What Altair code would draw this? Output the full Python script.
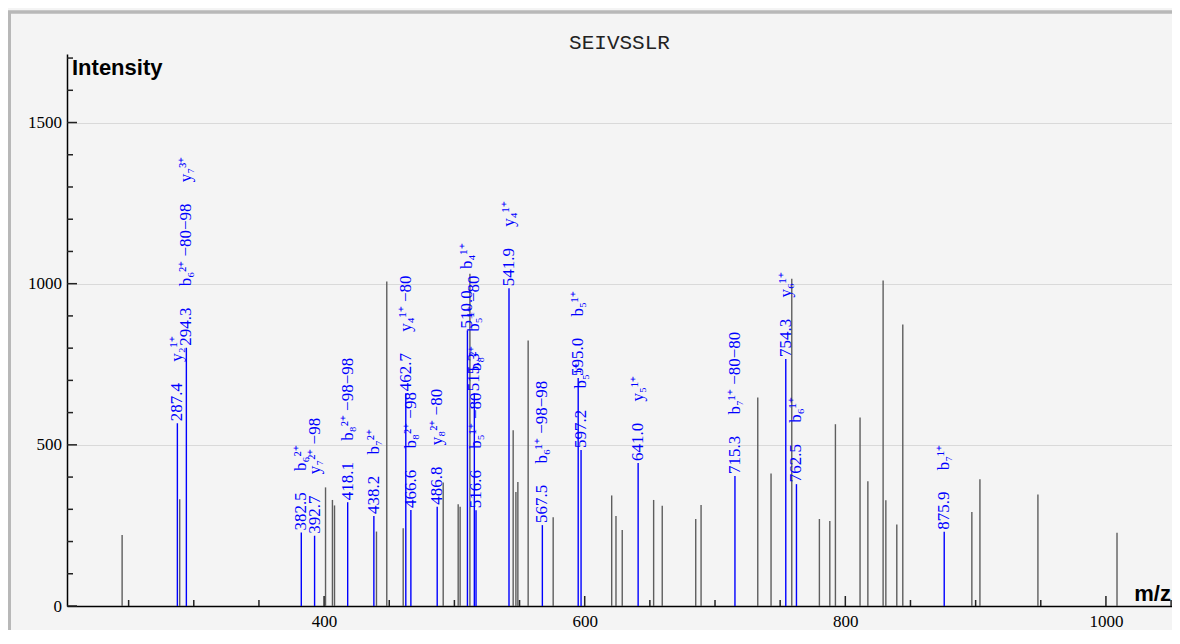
import altair as alt
import pandas as pd

# ---- data ----
mz_matched = [287.4, 294.3, 382.5, 392.7, 418.1, 438.2, 462.7, 466.6, 486.8, 510.0,
              515.3, 516.6, 541.9, 567.5, 595.0, 597.2, 641.0, 715.3, 754.3, 762.5, 875.9]
int_matched = [567, 801, 228, 218, 322, 279, 660, 298, 308, 855,
               660, 297, 986, 251, 707, 484, 444, 403, 766, 378, 230]
NB = "\u00a0" * 5
ion_matched = ["y₂¹⁺", "b₆²⁺ −80−98" + NB + "y₇³⁺", "b₆²⁺", "y₇²⁺ −98", "b₈²⁺ −98−98", "b₇²⁺",
               "y₄¹⁺ −80", "b₈²⁺ −98", "y₈²⁺ −80", "b₄¹⁺", "b₅¹⁺ −80", "b₅¹⁺ −80" + NB + "b₈²⁺",
               "y₄¹⁺", "b₆¹⁺ −98−98", "b₅¹⁺", "b₅¹⁺", "y₅¹⁺", "b₇¹⁺ −80−80", "y₆¹⁺", "b₆¹⁺", "b₇¹⁺"]

mz_other = [245.0, 289.2, 401.1, 406.4, 408.0, 440.2, 448.1, 460.7, 491.4, 502.9,
            504.4, 511.9, 545.1, 547.2, 548.7, 556.6, 575.8, 620.7, 624.0, 628.8,
            652.9, 659.5, 685.2, 689.3, 732.8, 743.0, 758.9, 780.1, 788.1, 792.4,
            811.3, 817.3, 829.0, 831.1, 839.5, 844.1, 897.1, 903.3, 947.8, 1008.5]
int_other = [220, 331, 368, 329, 312, 231, 1007, 241, 383, 316,
             308, 1031, 545, 354, 385, 824, 275, 343, 279, 236,
             329, 311, 270, 313, 647, 411, 1015, 270, 264, 564,
             585, 387, 1010, 328, 253, 873, 292, 393, 346, 227]

x_major = [400, 600, 800, 1000]
x_minor = [250, 300, 350, 450, 500, 550, 650, 700, 750, 850, 900, 950, 1050]
y_major = [0, 500, 1000, 1500]
y_minor = [100, 200, 300, 400, 600, 700, 800, 900, 1100, 1200, 1300, 1400, 1600, 1700]
x_domain = [202.7, 1050.7]
y_domain = [0, 1712.6]
title_text = "SEIVSSLR"

W, H = 1105, 552
SERIF = "Liberation Serif"
SANS = "Liberation Sans"

df_other = pd.DataFrame({"mz": mz_other, "intensity": int_other})
df_match = pd.DataFrame({
    "mz": mz_matched,
    "intensity": int_matched,
    "label": [f"{m:.1f}{NB}{ion}" for m, ion in zip(mz_matched, ion_matched)],
})

xscale = alt.Scale(domain=x_domain, nice=False, zero=False)
yscale = alt.Scale(domain=y_domain, nice=False, zero=False)

xaxis = alt.Axis(values=x_major, format="d", ticks=False, tickSize=0, grid=False, title=None,
                 labelFont=SERIF, labelFontSize=17, labelColor="black", labelPadding=7,
                 domainColor="black", domainWidth=1.5)
yaxis = alt.Axis(values=y_major, format="d", ticks=False, tickSize=0, grid=True, gridColor="#d9d9d9",
                 gridWidth=1, title=None, labelFont=SERIF, labelFontSize=17,
                 labelColor="black", labelPadding=5.5, domainColor="black", domainWidth=1.5)

X = alt.X("mz:Q", scale=xscale, axis=xaxis)
Y = alt.Y("intensity:Q", scale=yscale, axis=yaxis)

one = alt.Data(values=[{}])

frame = alt.Chart(one).mark_rect(fill="transparent", stroke="#b8b8b8", strokeWidth=3.5).encode(
    x=alt.value(-57.75), x2=alt.value(W + 60), y=alt.value(-42), y2=alt.value(H + 90)
)

gray = alt.Chart(df_other).mark_rule(color="#5e5e5e", strokeWidth=1.4).encode(
    x=X, y=Y, y2=alt.datum(0)
)
blue = alt.Chart(df_match).mark_rule(color="#0000ff", strokeWidth=1.4).encode(
    x=X, y=Y, y2=alt.datum(0)
)
labels = alt.Chart(df_match).mark_text(
    angle=270, align="left", baseline="middle", dx=2, font=SERIF, fontSize=17, color="#0000ff"
).encode(x=X, y=Y, text="label:N")

xt_major = alt.Chart(pd.DataFrame({"mz": x_major})).mark_rule(color="#222", strokeWidth=1.5).encode(
    x=X, y=alt.value(H), y2=alt.value(H - 10))
xt_minor = alt.Chart(pd.DataFrame({"mz": x_minor})).mark_rule(color="#222", strokeWidth=1.5).encode(
    x=X, y=alt.value(H), y2=alt.value(H - 6))
yt_major = alt.Chart(pd.DataFrame({"intensity": y_major})).mark_rule(color="#222", strokeWidth=1.5).encode(
    y=Y, x=alt.value(0), x2=alt.value(10))
yt_minor = alt.Chart(pd.DataFrame({"intensity": y_minor})).mark_rule(color="#222", strokeWidth=1.5).encode(
    y=Y, x=alt.value(0), x2=alt.value(6))

title = alt.Chart(one).mark_text(
    font="Liberation Mono", fontSize=21, color="#222",
    align="center", baseline="alphabetic"
).encode(x=alt.value(W / 2), y=alt.value(-5), text=alt.value(title_text))

ytitle = alt.Chart(one).mark_text(
    font=SANS, fontSize=22, fontWeight="bold", color="black", align="left", baseline="alphabetic"
).encode(x=alt.value(5), y=alt.value(21), text=alt.value("Intensity"))

xtitle = alt.Chart(one).mark_text(
    font=SANS, fontSize=22, fontWeight="bold", color="black", align="right", baseline="alphabetic"
).encode(x=alt.value(W - 1), y=alt.value(547), text=alt.value("m/z"))

chart = alt.layer(
    frame, gray, blue, labels, xt_major, xt_minor, yt_major, yt_minor, title, ytitle, xtitle
).properties(
    width=W, height=H,
    autosize=alt.AutoSizeParams(type="none"),
    padding={"left": 59, "top": 46, "right": 0, "bottom": 24},
).configure(background="#f4f4f4").configure_view(stroke="transparent").configure_axis(
    labelFont=SERIF, labelFontSize=17, labelColor="black"
)

chart.save("out.html", embed_options={"renderer": "svg", "actions": False})
